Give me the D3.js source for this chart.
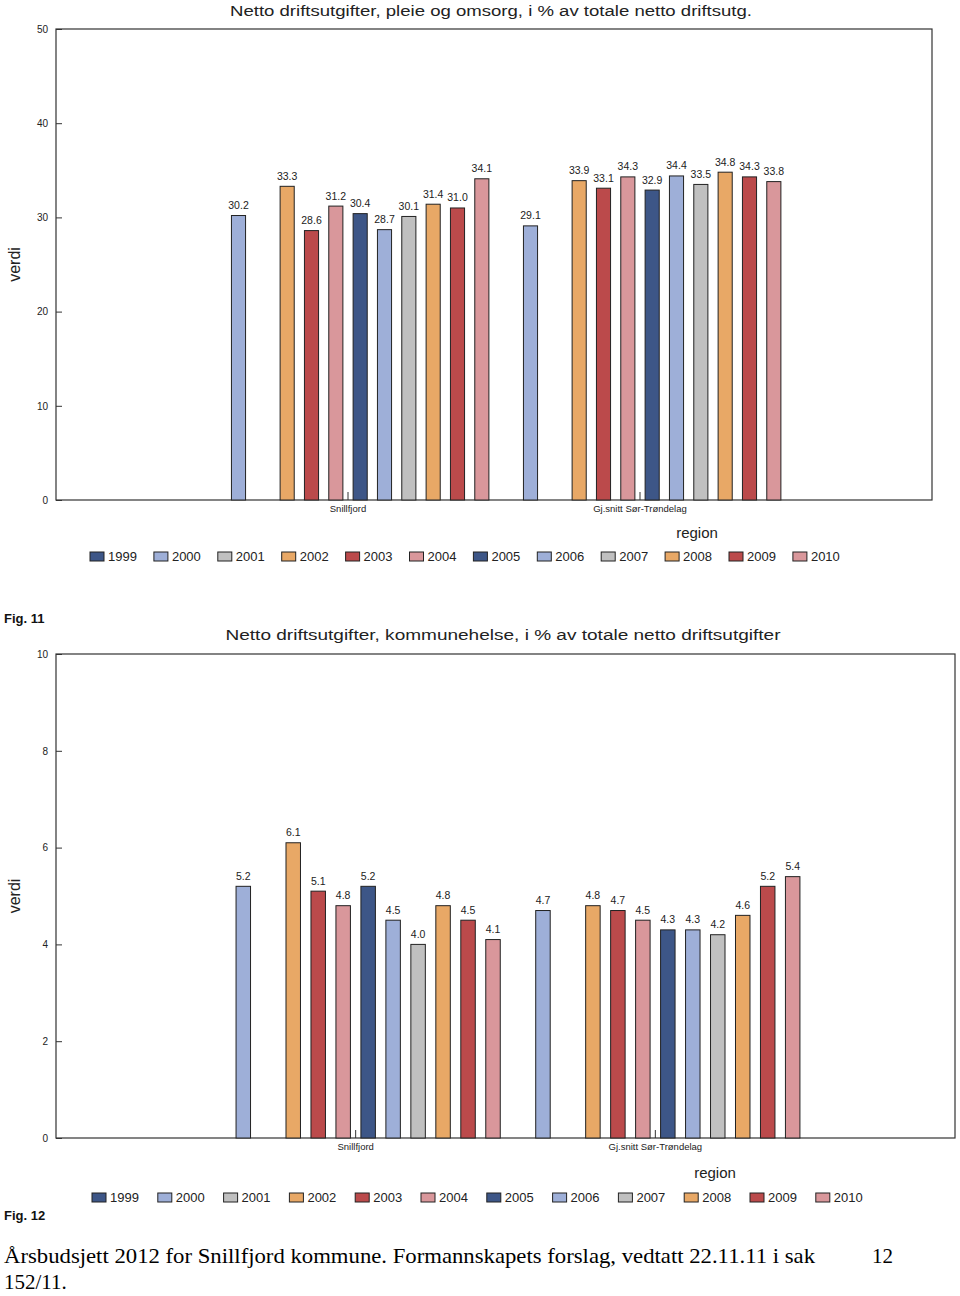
<!DOCTYPE html>
<html><head><meta charset="utf-8">
<script src="https://cdn.jsdelivr.net/npm/d3@7"></script>
<style>
body{margin:0;background:#fff;}
svg{display:block;}
</style></head>
<body>
<svg id="page" width="960" height="1296"></svg>
<script>
const regions = ["Snillfjord", "Gj.snitt Sør-Trøndelag"];
const years = ["1999","2000","2001","2002","2003","2004","2005","2006","2007","2008","2009","2010"];
const yearColors = ["#3d5687","#9eafd8","#c0c0c0","#e8a866","#bb4a4b","#d9979b","#3d5687","#9eafd8","#c0c0c0","#e8a866","#bb4a4b","#d9979b"];

const pleieSnillfjord = [null, 30.2, null, 33.3, 28.6, 31.2, 30.4, 28.7, 30.1, 31.4, 31.0, 34.1];
const pleieSnitt      = [null, 29.1, null, 33.9, 33.1, 34.3, 32.9, 34.4, 33.5, 34.8, 34.3, 33.8];
const pleieTicks = [0, 10, 20, 30, 40, 50];

const helseSnillfjord = [null, 5.2, null, 6.1, 5.1, 4.8, 5.2, 4.5, 4.0, 4.8, 4.5, 4.1];
const helseSnitt      = [null, 4.7, null, 4.8, 4.7, 4.5, 4.3, 4.3, 4.2, 4.6, 5.2, 5.4];
const helseTicks = [0, 2, 4, 6, 8, 10];

const svg = d3.select("#page");
const sans = "'Liberation Sans', Arial, sans-serif";

function drawChart(cfg) {
  const g = svg.append("g");
  const x0 = d3.scaleBand().domain(regions).range([cfg.left, cfg.right]).paddingInner(0).paddingOuter(0.5);
  const x1 = d3.scaleBand().domain(years).range([0, x0.bandwidth()]).paddingInner(0.42).paddingOuter(0.21);
  const y = d3.scaleLinear().domain([0, cfg.max]).range([cfg.bottom, cfg.top]);

  // title
  g.append("text").attr("x", cfg.titleX).attr("y", cfg.titleY)
    .attr("text-anchor", "middle").attr("font-family", sans).attr("font-size", 15.5)
    .attr("fill", "#222").attr("textLength", cfg.titleLen).attr("lengthAdjust", "spacingAndGlyphs")
    .text(cfg.title);

  // frame
  g.append("rect").attr("x", cfg.left).attr("y", cfg.top)
    .attr("width", cfg.right - cfg.left).attr("height", cfg.bottom - cfg.top)
    .attr("fill", "#fff").attr("stroke", "#333").attr("stroke-width", 1.2);

  // y axis
  const yAxis = d3.axisLeft(y).tickValues(cfg.ticks).tickSize(-6).tickPadding(8).tickFormat(d3.format("d"));
  const ya = g.append("g").attr("transform", `translate(${cfg.left},0)`).call(yAxis);
  ya.select(".domain").remove();
  ya.selectAll(".tick line").attr("stroke", "#333");
  ya.selectAll(".tick text").attr("font-family", sans).attr("font-size", 10).attr("fill", "#222");

  // y title
  g.append("text").attr("transform", `translate(${cfg.yLabelX},${(cfg.top + cfg.bottom) / 2}) rotate(-90)`)
    .attr("text-anchor", "middle").attr("font-family", sans).attr("font-size", 16).attr("fill", "#222")
    .text("verdi");

  // bars
  const groups = g.selectAll(".grp").data(cfg.series.map((vals, i) => ({ region: regions[i], vals })))
    .join("g").attr("transform", d => `translate(${x0(d.region)},0)`);
  const barData = d => d.vals.map((v, i) => ({ year: years[i], v, c: yearColors[i] })).filter(e => e.v !== null);
  groups.selectAll("rect").data(barData).join("rect")
    .attr("x", d => x1(d.year)).attr("width", x1.bandwidth())
    .attr("y", d => y(d.v)).attr("height", d => y(0) - y(d.v))
    .attr("fill", d => d.c).attr("stroke", "#222").attr("stroke-width", 1);
  groups.selectAll("text.val").data(barData).join("text").attr("class", "val")
    .attr("x", d => x1(d.year) + x1.bandwidth() / 2).attr("y", d => y(d.v) - 6.5)
    .attr("text-anchor", "middle").attr("font-family", sans).attr("font-size", 10.5).attr("fill", "#222")
    .text(d => d3.format(".1f")(d.v));

  // x axis ticks & labels
  const xAxis = d3.axisBottom(x0).tickSize(-8).tickPadding(12);
  const xa = g.append("g").attr("transform", `translate(0,${cfg.bottom})`).call(xAxis);
  xa.select(".domain").remove();
  xa.selectAll(".tick line").attr("stroke", "#333");
  xa.selectAll(".tick text").attr("font-family", sans).attr("font-size", 9.5).attr("fill", "#222").attr("dy", "0");

  // region label
  g.append("text").attr("x", cfg.regionX).attr("y", cfg.bottom + cfg.regionDy)
    .attr("text-anchor", "middle").attr("font-family", sans).attr("font-size", 15).attr("fill", "#222")
    .text("region");

  // legend
  const lg = g.append("g").attr("transform", `translate(${cfg.legendX},${cfg.legendY})`);
  const items = lg.selectAll("g").data(years).join("g")
    .attr("transform", (d, i) => `translate(${i * cfg.legendStep},0)`);
  items.append("rect").attr("x", 0).attr("y", -9).attr("width", 14).attr("height", 9)
    .attr("fill", (d, i) => yearColors[i]).attr("stroke", "#222").attr("stroke-width", 1);
  items.append("text").attr("x", 18).attr("y", 0).attr("font-family", sans).attr("font-size", 13)
    .attr("fill", "#222").text(d => d);
}

drawChart({
  title: "Netto driftsutgifter, pleie og omsorg, i % av totale netto driftsutg.",
  titleX: 491, titleY: 16, titleLen: 522,
  left: 56, right: 932, top: 29, bottom: 500, max: 50, ticks: pleieTicks,
  series: [pleieSnillfjord, pleieSnitt], yLabelX: 20,
  regionX: 697, regionDy: 38, legendX: 90, legendY: 561, legendStep: 63.9
});

drawChart({
  title: "Netto driftsutgifter, kommunehelse, i % av totale netto driftsutgifter",
  titleX: 503, titleY: 640, titleLen: 555,
  left: 56, right: 955, top: 654, bottom: 1138, max: 10, ticks: helseTicks,
  series: [helseSnillfjord, helseSnitt], yLabelX: 20,
  regionX: 715, regionDy: 40, legendX: 92, legendY: 1202, legendStep: 65.8
});

// figure captions
svg.append("text").attr("x", 4).attr("y", 623).attr("font-family", sans).attr("font-weight", "bold")
  .attr("font-size", 13).attr("fill", "#111").text("Fig. 11");
svg.append("text").attr("x", 4).attr("y", 1220).attr("font-family", sans).attr("font-weight", "bold")
  .attr("font-size", 13).attr("fill", "#111").text("Fig. 12");

// footer
const serif = "'Liberation Serif', 'Times New Roman', serif";
svg.append("text").attr("x", 4).attr("y", 1263).attr("font-family", serif).attr("font-size", 21)
  .attr("fill", "#000").attr("textLength", 811).attr("lengthAdjust", "spacingAndGlyphs")
  .text("Årsbudsjett 2012 for Snillfjord kommune. Formannskapets forslag, vedtatt 22.11.11 i sak");
svg.append("text").attr("x", 872).attr("y", 1263).attr("font-family", serif).attr("font-size", 21)
  .attr("fill", "#000").text("12");
svg.append("text").attr("x", 4).attr("y", 1289).attr("font-family", serif).attr("font-size", 21)
  .attr("fill", "#000").text("152/11.");
</script>
</body></html>
